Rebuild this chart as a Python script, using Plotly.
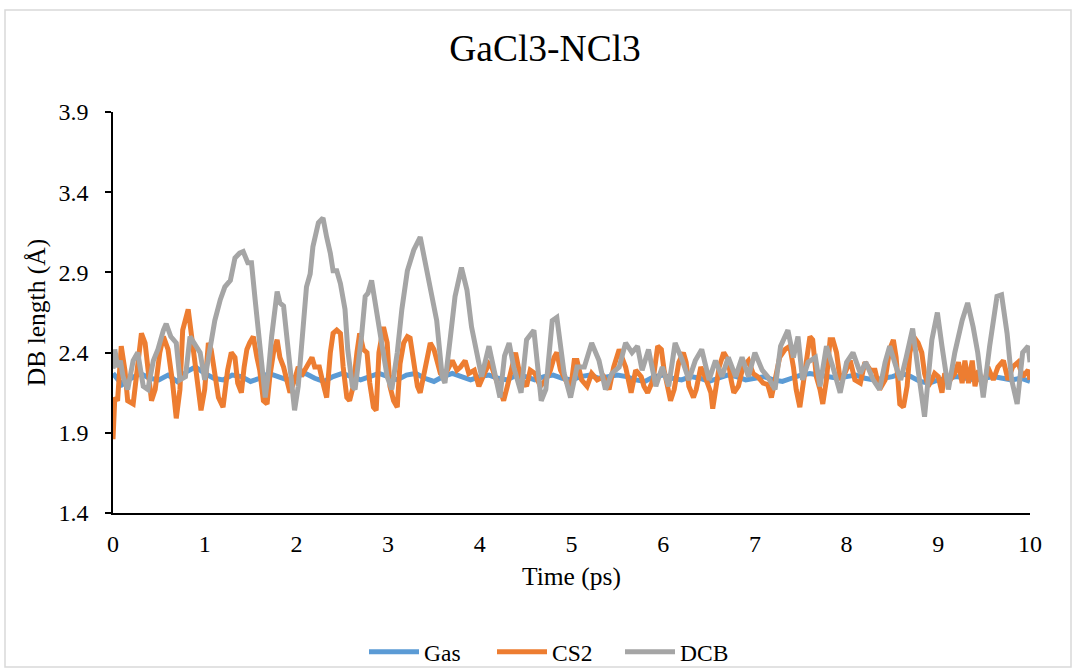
import plotly.graph_objects as go

# ---------------- data ----------------
t_gas = [round(i * 0.1, 1) for i in range(101)]
gas = [2.27, 2.20, 2.24, 2.27, 2.24, 2.23, 2.26, 2.22, 2.28, 2.31,
       2.27, 2.24, 2.23, 2.26, 2.25, 2.22, 2.24, 2.27, 2.25, 2.23,
       2.25, 2.27, 2.24, 2.22, 2.25, 2.27, 2.25, 2.23, 2.25, 2.27,
       2.25, 2.23, 2.26, 2.27, 2.24, 2.22, 2.25, 2.27, 2.25, 2.23,
       2.25, 2.26, 2.24, 2.23, 2.26, 2.25, 2.23, 2.25, 2.26, 2.24,
       2.23, 2.25, 2.26, 2.24, 2.25, 2.26, 2.25, 2.23, 2.22, 2.25,
       2.26, 2.24, 2.23, 2.25, 2.24, 2.22, 2.24, 2.26, 2.25, 2.23,
       2.24, 2.25, 2.23, 2.22, 2.24, 2.26, 2.27, 2.26, 2.25, 2.24,
       2.25, 2.26, 2.24, 2.23, 2.24, 2.25, 2.27, 2.25, 2.22, 2.21,
       2.23, 2.24, 2.25, 2.24, 2.23, 2.24, 2.25, 2.24, 2.23, 2.24,
       2.22]

t_cs2 = [0.00, 0.02, 0.05, 0.09, 0.13, 0.16, 0.22, 0.25, 0.31, 0.35,
         0.38, 0.42, 0.46, 0.51, 0.55, 0.60, 0.65, 0.69, 0.73, 0.76,
         0.82, 0.85, 0.89, 0.93, 0.96, 1.00, 1.04, 1.07, 1.11, 1.15,
         1.20, 1.25, 1.29, 1.33, 1.36, 1.40, 1.43, 1.46, 1.49, 1.53,
         1.57, 1.60, 1.64, 1.68, 1.71, 1.75, 1.79, 1.82, 1.86, 1.90,
         1.93, 1.98, 2.02, 2.07, 2.13, 2.17, 2.20, 2.25, 2.29, 2.33,
         2.37, 2.40, 2.44, 2.48, 2.51, 2.55, 2.58, 2.62, 2.66, 2.69,
         2.73, 2.77, 2.80, 2.84, 2.87, 2.90, 2.95, 2.99, 3.02, 3.06,
         3.10, 3.13, 3.17, 3.21, 3.24, 3.28, 3.32, 3.35, 3.39, 3.43,
         3.46, 3.50, 3.53, 3.57, 3.61, 3.66, 3.70, 3.75, 3.79, 3.84,
         3.88, 3.94, 3.99, 4.05, 4.10, 4.13, 4.19, 4.22, 4.26, 4.30,
         4.35, 4.39, 4.42, 4.46, 4.51, 4.55, 4.60, 4.66, 4.72, 4.77,
         4.81, 4.84, 4.88, 4.94, 4.99, 5.03, 5.06, 5.11, 5.17, 5.22,
         5.28, 5.35, 5.41, 5.46, 5.52, 5.55, 5.59, 5.65, 5.70, 5.76,
         5.79, 5.83, 5.89, 5.94, 5.98, 6.01, 6.05, 6.08, 6.12, 6.17,
         6.22, 6.25, 6.28, 6.33, 6.36, 6.41, 6.47, 6.52, 6.54, 6.58,
         6.61, 6.66, 6.71, 6.74, 6.77, 6.82, 6.87, 6.93, 6.98, 7.03,
         7.09, 7.14, 7.18, 7.22, 7.27, 7.33, 7.38, 7.42, 7.45, 7.49,
         7.52, 7.56, 7.60, 7.63, 7.67, 7.71, 7.74, 7.78, 7.82, 7.85,
         7.89, 7.93, 7.98, 8.04, 8.09, 8.15, 8.20, 8.26, 8.31, 8.36,
         8.42, 8.47, 8.51, 8.54, 8.58, 8.62, 8.66, 8.69, 8.73, 8.78,
         8.82, 8.85, 8.89, 8.93, 8.96, 9.00, 9.04, 9.07, 9.13, 9.18,
         9.22, 9.26, 9.29, 9.33, 9.37, 9.40, 9.44, 9.49, 9.54, 9.60,
         9.65, 9.71, 9.76, 9.81, 9.87, 9.92, 9.98, 10.00]
cs2 = [1.86, 2.12, 2.10, 2.44, 2.29, 2.10, 2.08, 2.25, 2.52, 2.46,
       2.29, 2.10, 2.17, 2.40, 2.50, 2.42, 2.21, 1.99, 2.17, 2.54,
       2.67, 2.52, 2.35, 2.15, 2.04, 2.17, 2.46, 2.42, 2.25, 2.12,
       2.06, 2.29, 2.40, 2.37, 2.21, 2.15, 2.31, 2.42, 2.46, 2.50,
       2.37, 2.29, 2.10, 2.08, 2.25, 2.40, 2.48, 2.37, 2.31, 2.21,
       2.15, 2.23, 2.31, 2.27, 2.33, 2.37, 2.31, 2.31, 2.21, 2.12,
       2.40, 2.52, 2.54, 2.52, 2.31, 2.12, 2.10, 2.19, 2.40, 2.52,
       2.42, 2.40, 2.21, 2.06, 2.04, 2.40, 2.56, 2.46, 2.19, 2.10,
       2.06, 2.33, 2.46, 2.50, 2.49, 2.31, 2.19, 2.15, 2.25, 2.37,
       2.46, 2.42, 2.35, 2.27, 2.25, 2.31, 2.35, 2.29, 2.31, 2.35,
       2.27, 2.29, 2.19, 2.27, 2.33, 2.31, 2.21, 2.17, 2.10, 2.19,
       2.31, 2.40, 2.31, 2.23, 2.19, 2.29, 2.27, 2.19, 2.23, 2.29,
       2.37, 2.40, 2.29, 2.23, 2.17, 2.35, 2.35, 2.23, 2.19, 2.27,
       2.23, 2.25, 2.17, 2.31, 2.42, 2.37, 2.31, 2.15, 2.29, 2.25,
       2.19, 2.15, 2.23, 2.44, 2.42, 2.29, 2.17, 2.10, 2.17, 2.34,
       2.40, 2.34, 2.19, 2.12, 2.17, 2.31, 2.23, 2.15, 2.05, 2.19,
       2.31, 2.40, 2.35, 2.23, 2.15, 2.19, 2.31, 2.35, 2.27, 2.25,
       2.21, 2.20, 2.12, 2.23, 2.37, 2.42, 2.44, 2.31, 2.17, 2.06,
       2.19, 2.37, 2.50, 2.48, 2.25, 2.17, 2.08, 2.23, 2.48, 2.48,
       2.40, 2.23, 2.27, 2.35, 2.23, 2.21, 2.34, 2.29, 2.29, 2.17,
       2.23, 2.42, 2.48, 2.37, 2.08, 2.06, 2.19, 2.40, 2.50, 2.46,
       2.40, 2.27, 2.19, 2.23, 2.27, 2.25, 2.15, 2.27, 2.23, 2.27,
       2.34, 2.21, 2.35, 2.21, 2.35, 2.19, 2.29, 2.17, 2.31, 2.23,
       2.31, 2.35, 2.23, 2.31, 2.34, 2.25, 2.29, 2.23]

t_dcb = [0.00, 0.02, 0.05, 0.08, 0.11, 0.16, 0.22, 0.27, 0.33, 0.38,
         0.44, 0.49, 0.55, 0.58, 0.63, 0.69, 0.73, 0.79, 0.84, 0.89,
         0.95, 1.00, 1.06, 1.11, 1.17, 1.22, 1.28, 1.33, 1.38, 1.42,
         1.47, 1.51, 1.55, 1.58, 1.62, 1.66, 1.69, 1.73, 1.79, 1.82,
         1.86, 1.90, 1.95, 1.98, 2.02, 2.06, 2.11, 2.15, 2.18, 2.24,
         2.29, 2.33, 2.37, 2.40, 2.44, 2.48, 2.53, 2.56, 2.61, 2.64,
         2.67, 2.71, 2.75, 2.78, 2.82, 2.86, 2.93, 2.99, 3.04, 3.10,
         3.15, 3.21, 3.28, 3.35, 3.40, 3.48, 3.53, 3.59, 3.62, 3.68,
         3.73, 3.80, 3.86, 3.91, 3.97, 4.02, 4.10, 4.17, 4.22, 4.27,
         4.32, 4.37, 4.45, 4.51, 4.59, 4.67, 4.72, 4.79, 4.84, 4.92,
         4.99, 5.06, 5.14, 5.22, 5.30, 5.37, 5.44, 5.52, 5.59, 5.66,
         5.72, 5.77, 5.84, 5.92, 5.99, 6.06, 6.13, 6.21, 6.28, 6.35,
         6.42, 6.50, 6.57, 6.64, 6.71, 6.79, 6.86, 6.93, 7.00, 7.08,
         7.14, 7.22, 7.28, 7.36, 7.42, 7.47, 7.52, 7.58, 7.66, 7.71,
         7.78, 7.85, 7.93, 8.00, 8.07, 8.15, 8.21, 8.29, 8.36, 8.42,
         8.47, 8.54, 8.59, 8.65, 8.72, 8.78, 8.85, 8.93, 8.99, 9.04,
         9.11, 9.18, 9.26, 9.32, 9.38, 9.43, 9.49, 9.56, 9.64, 9.69,
         9.75, 9.80, 9.86, 9.92, 9.98, 10.00]
dcb = [2.30, 2.42, 2.31, 2.35, 2.25, 2.17, 2.35, 2.40, 2.19, 2.17,
       2.35, 2.42, 2.54, 2.58, 2.50, 2.46, 2.23, 2.25, 2.50, 2.46,
       2.40, 2.23, 2.42, 2.60, 2.73, 2.81, 2.85, 2.99, 3.02, 3.03,
       2.96, 2.96, 2.73, 2.54, 2.33, 2.12, 2.25, 2.50, 2.78, 2.71,
       2.69, 2.46, 2.17, 2.04, 2.19, 2.46, 2.81, 2.89, 3.06, 3.21,
       3.24, 3.12, 3.02, 2.91, 2.91, 2.83, 2.67, 2.42, 2.19, 2.17,
       2.29, 2.50, 2.75, 2.77, 2.85, 2.69, 2.46, 2.25, 2.17, 2.40,
       2.67, 2.91, 3.04, 3.12, 2.98, 2.77, 2.60, 2.25, 2.21, 2.50,
       2.75, 2.93, 2.79, 2.56, 2.40, 2.25, 2.44, 2.27, 2.12, 2.38,
       2.46, 2.31, 2.15, 2.48, 2.54, 2.10, 2.17, 2.60, 2.62, 2.27,
       2.12, 2.31, 2.31, 2.46, 2.35, 2.17, 2.27, 2.31, 2.46, 2.40,
       2.44, 2.29, 2.42, 2.19, 2.31, 2.19, 2.46, 2.35, 2.23, 2.35,
       2.42, 2.23, 2.35, 2.25, 2.37, 2.25, 2.37, 2.25, 2.40, 2.29,
       2.25, 2.17, 2.44, 2.54, 2.37, 2.50, 2.23, 2.34, 2.37, 2.19,
       2.44, 2.31, 2.15, 2.34, 2.40, 2.27, 2.34, 2.23, 2.17, 2.34,
       2.44, 2.31, 2.23, 2.37, 2.55, 2.29, 2.00, 2.48, 2.65, 2.44,
       2.17, 2.40, 2.60, 2.71, 2.56, 2.40, 2.12, 2.44, 2.75, 2.76,
       2.52, 2.23, 2.08, 2.40, 2.44, 2.34]

series_names = ["Gas", "CS2", "DCB"]
series_colors = ["#5B9BD5", "#ED7D31", "#A5A5A5"]
x_ticks = list(range(0, 11))
y_ticks = [1.4, 1.9, 2.4, 2.9, 3.4, 3.9]

FONT = "Liberation Serif"

fig = go.Figure()
for name, tx, vy, col in zip(series_names, [t_gas, t_cs2, t_dcb], [gas, cs2, dcb], series_colors):
    fig.add_trace(go.Scatter(x=tx, y=vy, mode="lines", name=name,
                             line=dict(color=col, width=5)))

fig.update_layout(
    width=1076, height=670,
    margin=dict(l=113, r=46, t=112, b=157),
    paper_bgcolor="white", plot_bgcolor="white",
    font=dict(family=FONT, size=24, color="black"),
    title=dict(text="GaCl3-NCl3", x=0.5 + 7 / 1076, xref="container", xanchor="center",
               y=1 - 48 / 670, yref="container", yanchor="middle",
               font=dict(family=FONT, size=37.5, color="black")),
    xaxis=dict(range=[0, 10], tickvals=x_ticks, showgrid=False, zeroline=False,
               showline=True, linecolor="black", linewidth=1.5, ticks="",
               tickfont=dict(family=FONT, size=24), ticklabelstandoff=8,
               title=dict(text="Time (ps)", font=dict(family=FONT, size=25.5), standoff=12)),
    yaxis=dict(range=[1.4, 3.9], tickvals=y_ticks, tickformat=".1f", showgrid=False,
               zeroline=False, showline=True, linecolor="black", linewidth=1.5,
               ticks="outside", ticklen=6, tickcolor="black", tickwidth=1.5,
               tickfont=dict(family=FONT, size=24), ticklabelstandoff=12,
               title=dict(text="DB length (Å)", font=dict(family=FONT, size=25.5), standoff=6)),
    legend=dict(orientation="h", x=364 / 1076, xref="container", xanchor="left",
                y=1 - 652 / 670, yref="container", yanchor="middle",
                font=dict(family=FONT, size=23.5), itemwidth=50,
                entrywidth=63, entrywidthmode="pixels", traceorder="normal",
                bgcolor="rgba(0,0,0,0)"),
    showlegend=True,
)

# outer chart border
fig.add_shape(type="rect", xref="paper", yref="paper",
              x0=(5 - 113) / 917, x1=(1071 - 113) / 917,
              y0=(513 - 667) / 401, y1=(513 - 10) / 401,
              line=dict(color="#D9D9D9", width=1.5), fillcolor="rgba(0,0,0,0)", layer="below")

fig.write_html("out.html", config={"displayModeBar": False},
               post_script="document.body.style.margin='0';document.body.style.padding='0';")
